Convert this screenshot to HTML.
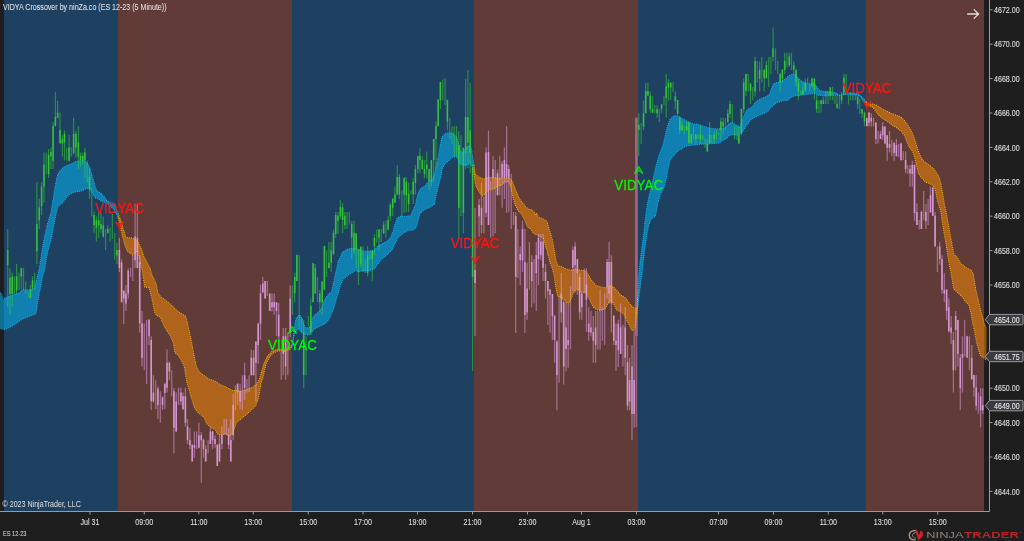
<!DOCTYPE html>
<html lang="en"><head><meta charset="utf-8"><title>VIDYA Crossover by ninZa.co</title>
<style>
html,body{margin:0;padding:0;background:#1e1e1e;overflow:hidden}
body{width:1024px;height:541px;position:relative;font-family:"Liberation Sans",Arial,sans-serif}
svg{position:absolute;left:0;top:0;display:block}
text{font-family:"Liberation Sans",Arial,sans-serif}
</style></head><body>
<svg width="1024" height="541" viewBox="0 0 1024 541">
<rect width="1024" height="541" fill="#1e1e1e"/>
<g shape-rendering="crispEdges">
<rect x="4" y="0" width="114" height="510.5" fill="#1e4061"/>
<rect x="118" y="0" width="174" height="510.5" fill="#603b37"/>
<rect x="292" y="0" width="182" height="510.5" fill="#1e4061"/>
<rect x="474" y="0" width="164" height="510.5" fill="#603b37"/>
<rect x="638" y="0" width="228" height="510.5" fill="#1e4061"/>
<rect x="866" y="0" width="118" height="510.5" fill="#603b37"/>
</g>
<clipPath id="cp"><rect x="0" y="0" width="986.5" height="510.5"/></clipPath>
<g clip-path="url(#cp)">
<path d="M0.0 292.0 L1.9 293.3 L3.8 300.2 L5.0 298.3 L12.6 295.1 L18.9 293.3 L22.6 289.5 L28.9 290.1 L34.6 288.2 L36.5 280.1 L39.0 270.0 L40.9 258.0 L42.7 246.6 L44.6 236.5 L47.8 222.7 L50.9 212.6 L53.1 199.0 L55.0 187.0 L57.2 175.9 L59.1 172.1 L62.8 167.7 L66.6 165.6 L72.9 163.3 L75.4 161.4 L83.0 160.5 L86.7 162.4 L89.9 167.7 L92.4 176.5 L94.9 185.3 L96.8 191.0 L100.6 192.8 L104.3 196.8 L106.8 200.7 L110.6 202.6 L114.4 203.8 L116.3 208.9 L117.9 213.2 L118.0 213.5 L118.0 217.7 L117.3 215.4 L114.4 210.1 L110.6 206.3 L105.6 202.6 L100.6 200.7 L96.8 197.5 L95.5 198.0 L93.6 195.4 L91.8 191.6 L89.2 189.1 L86.7 188.4 L83.6 190.0 L81.7 191.0 L75.4 191.9 L70.4 193.8 L66.6 197.5 L62.8 202.6 L58.1 206.3 L55.9 215.1 L53.4 227.7 L50.9 240.3 L48.4 249.1 L46.5 258.0 L44.6 270.0 L42.1 277.5 L40.2 288.9 L37.7 301.4 L36.5 311.5 L35.2 314.0 L28.9 316.5 L22.6 319.0 L18.9 321.5 L10.1 327.2 L3.8 329.7 L0.0 329.1 Z" fill="#00bfff" fill-opacity="0.5"/>
<path d="M118.0 213.5 L119.5 217.0 L121.4 222.0 L122.7 227.7 L124.2 231.5 L125.7 236.5 L127.5 237.7 L130.9 237.7 L134.6 239.0 L137.1 240.2 L139.0 244.0 L141.5 249.0 L143.4 255.3 L145.9 260.3 L148.5 265.4 L150.0 268.1 L152.2 275.8 L156.0 283.4 L157.9 292.2 L160.4 296.6 L164.8 299.7 L171.1 304.7 L176.1 309.8 L181.1 313.5 L185.5 316.0 L187.4 322.3 L189.1 330.6 L191.2 340.1 L193.1 350.1 L195.0 360.2 L196.8 367.7 L199.4 372.1 L203.8 375.3 L208.8 379.0 L215.1 380.9 L220.1 384.7 L225.1 386.6 L228.0 388.2 L230.2 389.1 L233.0 390.7 L235.2 390.4 L240.6 391.3 L246.9 389.4 L253.1 386.9 L256.9 383.8 L259.4 379.5 L261.9 370.3 L264.5 362.1 L267.6 355.8 L272.0 351.4 L278.3 348.9 L284.6 349.5 L289.6 347.7 L292.0 344.6 L292.0 346.5 L289.6 349.5 L284.6 351.4 L278.3 350.8 L272.6 353.3 L269.2 357.7 L266.3 363.4 L264.5 370.3 L262.6 379.1 L261.3 381.9 L259.7 391.3 L258.2 398.9 L255.7 405.8 L250.6 410.8 L245.6 415.2 L240.3 419.6 L236.9 422.1 L234.4 428.4 L232.2 434.0 L229.5 435.9 L228.0 435.9 L226.4 433.4 L221.4 435.3 L217.6 434.0 L215.1 429.6 L211.3 427.7 L206.9 424.0 L203.8 417.1 L198.7 413.3 L195.0 408.9 L192.4 401.3 L189.9 392.8 L187.4 384.1 L185.5 375.3 L184.3 366.5 L181.8 361.5 L178.6 355.8 L174.8 352.7 L173.3 342.6 L169.8 335.1 L166.4 330.0 L164.8 327.4 L162.3 322.3 L160.4 317.3 L156.6 315.4 L154.7 312.3 L152.9 303.5 L151.0 294.7 L149.1 287.8 L144.7 287.1 L143.4 278.3 L142.2 269.5 L141.2 268.0 L139.7 259.1 L138.4 254.0 L136.5 250.9 L134.6 253.4 L132.7 255.1 L130.2 253.4 L127.3 250.9 L124.8 244.6 L122.9 237.7 L121.0 229.6 L119.2 221.4 L118.0 217.7 Z" fill="#ff8c00" fill-opacity="0.5"/>
<path d="M292.0 344.6 L292.1 344.5 L293.4 336.3 L294.9 324.3 L296.2 318.0 L299.6 314.8 L302.2 318.6 L303.4 323.6 L305.3 327.4 L308.4 328.0 L311.0 324.8 L312.2 318.6 L314.7 314.8 L318.5 312.3 L321.6 308.5 L323.5 302.2 L326.0 297.2 L328.6 294.1 L331.7 291.5 L333.0 284.6 L334.8 277.1 L336.7 268.3 L338.0 261.6 L339.6 258.7 L342.4 252.2 L346.2 249.6 L347.8 249.0 L349.9 248.4 L353.2 248.1 L356.3 249.0 L362.9 250.9 L369.1 251.5 L374.2 250.2 L377.3 246.5 L381.7 244.0 L386.7 241.5 L390.5 237.7 L393.0 231.4 L395.5 222.6 L397.4 217.6 L400.6 216.3 L406.8 216.3 L410.6 215.7 L413.1 210.0 L415.3 205.2 L416.9 197.8 L418.8 191.5 L420.7 188.4 L424.4 186.5 L427.6 182.7 L432.0 180.2 L433.9 175.2 L435.8 168.9 L437.6 160.1 L438.9 152.5 L440.3 144.5 L442.3 136.5 L445.5 133.4 L449.9 132.5 L453.6 134.0 L456.8 137.8 L458.7 144.1 L459.9 150.4 L462.2 153.0 L464.3 150.4 L466.8 147.2 L469.4 145.3 L471.2 147.8 L473.3 160.6 L474.0 165.4 L474.0 174.2 L472.6 167.0 L469.9 163.5 L466.3 165.1 L464.7 165.1 L461.4 164.8 L459.4 162.6 L457.9 158.8 L455.9 156.3 L452.1 157.6 L448.3 161.3 L444.6 163.9 L442.0 170.1 L440.2 178.9 L438.3 186.5 L435.8 196.5 L434.5 205.0 L433.2 204.1 L432.0 206.3 L430.1 207.2 L427.0 208.8 L425.7 209.1 L423.2 210.7 L420.0 213.8 L418.2 220.1 L416.3 227.6 L413.1 230.1 L408.1 230.8 L403.1 233.3 L398.0 237.7 L395.5 242.7 L391.8 250.2 L386.7 255.3 L381.7 259.0 L377.9 264.1 L374.2 269.1 L369.1 270.4 L364.1 271.0 L357.8 271.6 L356.0 270.2 L353.7 271.4 L351.5 273.0 L349.9 273.9 L346.2 276.5 L343.0 279.6 L340.5 284.6 L338.6 292.2 L336.1 299.7 L334.2 307.2 L331.7 313.5 L328.6 320.0 L324.8 323.8 L319.8 326.3 L314.7 328.8 L311.6 332.6 L308.4 335.1 L303.4 333.8 L300.9 331.9 L298.4 328.8 L295.9 331.3 L293.6 337.0 L292.6 345.8 L292.0 346.5 Z" fill="#00bfff" fill-opacity="0.5"/>
<path d="M474.0 165.4 L475.1 173.3 L477.6 176.4 L481.4 178.3 L484.5 178.9 L487.6 177.4 L492.7 177.4 L497.7 177.9 L504.0 178.3 L509.0 177.9 L511.5 180.2 L513.4 184.0 L515.3 189.0 L517.8 195.3 L520.3 200.3 L522.8 202.8 L525.4 206.6 L526.6 207.5 L528.0 208.8 L529.1 209.1 L530.4 209.4 L531.8 210.0 L534.2 212.1 L535.5 215.1 L536.7 213.0 L537.9 216.3 L539.3 217.6 L541.7 218.2 L544.1 219.5 L546.9 221.3 L548.7 227.6 L550.6 233.9 L552.5 240.2 L553.8 247.7 L555.0 255.3 L556.3 261.6 L558.2 265.9 L561.9 266.5 L565.7 268.7 L570.7 270.3 L575.8 269.0 L580.8 270.3 L584.6 270.6 L587.1 273.2 L589.6 277.1 L592.1 280.9 L595.9 285.3 L600.9 287.1 L605.9 287.8 L609.7 285.9 L613.5 287.1 L617.2 290.9 L621.0 295.3 L624.8 297.2 L628.6 302.2 L632.3 306.6 L634.8 307.9 L637.1 308.5 L638.0 290.3 L638.0 304.9 L634.8 330.1 L632.3 331.0 L631.1 328.6 L628.6 323.6 L626.0 318.6 L623.5 313.5 L619.8 311.6 L616.6 309.8 L614.7 306.0 L612.8 302.2 L610.3 300.3 L607.8 304.1 L604.7 309.1 L600.9 310.4 L597.1 309.8 L593.4 307.2 L590.8 302.2 L588.3 296.6 L585.8 292.2 L580.8 292.2 L578.3 289.7 L575.8 289.0 L573.2 293.4 L570.7 299.7 L568.2 304.1 L564.5 299.7 L560.7 297.2 L557.5 295.9 L555.7 287.1 L554.1 275.7 L552.5 269.3 L550.6 264.1 L548.7 257.8 L546.9 250.2 L545.0 244.0 L543.5 238.9 L541.7 237.1 L539.3 236.4 L537.9 235.2 L535.5 234.5 L533.5 233.3 L531.8 230.8 L530.4 228.9 L528.0 227.6 L526.6 225.1 L524.1 218.8 L521.6 213.8 L520.3 213.0 L517.8 210.2 L515.3 205.3 L513.4 199.0 L512.2 193.4 L510.9 187.7 L509.6 183.3 L507.8 181.5 L504.0 182.7 L501.5 185.2 L497.7 185.9 L494.6 188.4 L491.4 189.6 L487.6 190.2 L485.1 194.0 L482.6 195.9 L480.1 193.4 L477.6 189.0 L475.7 185.2 L474.0 174.2 L474.0 174.2 Z" fill="#ff8c00" fill-opacity="0.5"/>
<path d="M638.0 290.3 L638.9 273.0 L640.1 261.6 L642.0 246.5 L643.9 232.7 L645.1 220.1 L646.7 208.1 L648.3 199.0 L651.4 186.5 L653.9 175.2 L656.5 163.9 L659.0 155.1 L661.5 148.8 L663.0 145.2 L665.2 135.3 L667.8 125.2 L670.3 118.9 L674.0 115.8 L677.8 115.8 L681.6 118.3 L685.4 120.2 L689.1 122.1 L692.9 124.0 L697.9 124.0 L703.0 125.9 L708.0 127.7 L713.0 128.4 L718.0 129.0 L723.1 128.4 L726.8 126.5 L729.4 123.3 L732.5 122.7 L735.6 124.6 L738.8 126.5 L740.0 127.8 L741.6 122.1 L743.8 115.9 L746.0 111.5 L748.0 108.9 L751.3 107.7 L755.1 102.7 L760.1 98.9 L765.1 97.1 L769.5 94.5 L771.4 88.9 L773.3 83.9 L776.5 82.6 L781.5 81.3 L785.2 78.8 L789.0 75.7 L792.8 74.0 L795.3 74.4 L797.8 77.6 L801.0 80.7 L804.1 82.6 L809.1 83.2 L814.2 83.9 L816.7 86.4 L819.2 90.1 L823.0 91.4 L828.0 91.6 L833.0 92.0 L836.8 93.3 L839.3 95.2 L843.1 93.9 L846.8 92.7 L851.9 93.3 L856.9 93.3 L859.4 94.5 L861.9 97.1 L864.4 99.6 L866.0 101.8 L866.0 104.3 L865.9 104.2 L863.2 100.8 L860.7 97.1 L858.2 95.2 L854.4 94.5 L849.4 94.5 L844.3 94.5 L840.6 95.8 L836.8 95.2 L833.0 95.2 L828.0 95.8 L823.0 95.8 L817.9 95.2 L814.2 93.3 L810.4 93.9 L805.4 94.5 L800.3 95.2 L795.3 95.8 L791.5 97.1 L787.8 100.2 L782.7 100.8 L776.5 102.7 L771.4 107.1 L767.7 111.5 L763.9 113.4 L758.9 115.3 L753.8 117.8 L750.1 120.3 L748.0 124.0 L746.3 125.3 L744.4 129.0 L741.9 132.8 L738.2 135.3 L733.1 134.6 L729.4 135.3 L726.8 138.4 L723.1 140.3 L719.3 142.8 L714.3 143.4 L708.0 144.1 L701.7 144.1 L695.4 144.9 L689.1 145.5 L685.4 146.6 L684.1 146.9 L681.6 149.1 L679.1 150.0 L674.0 155.1 L670.3 160.1 L667.8 170.1 L665.9 180.2 L664.0 187.7 L660.2 194.0 L657.7 203.9 L656.5 211.3 L655.2 216.3 L651.4 218.8 L648.9 225.1 L647.0 233.9 L645.1 246.5 L643.3 261.6 L642.0 273.0 L638.0 304.9 Z" fill="#00bfff" fill-opacity="0.5"/>
<path d="M866.0 101.8 L866.2 102.0 L869.8 103.9 L873.6 104.1 L877.4 105.7 L881.1 108.3 L886.2 110.8 L891.2 113.3 L896.2 115.2 L900.0 116.4 L903.8 119.6 L907.5 124.6 L911.3 130.9 L913.8 136.5 L915.7 142.8 L917.9 149.6 L918.8 153.0 L920.1 155.1 L922.6 160.1 L926.4 163.2 L930.2 165.7 L933.9 168.9 L936.4 172.7 L939.0 177.1 L940.8 182.7 L942.1 190.2 L943.4 197.8 L944.6 205.3 L946.1 211.5 L947.8 221.3 L949.6 231.4 L951.5 241.5 L952.8 249.0 L954.0 254.6 L956.6 256.5 L959.1 260.3 L961.0 264.1 L962.6 264.5 L964.1 266.0 L966.4 267.7 L967.9 268.5 L971.5 270.3 L973.4 274.4 L974.6 282.1 L975.8 289.7 L977.7 297.2 L979.6 306.0 L981.5 313.5 L983.4 319.8 L984.6 324.8 L986.2 326.3 L987.3 327.5 L986.5 361.5 L984.6 358.3 L982.1 357.1 L980.2 355.2 L978.3 348.9 L976.4 341.4 L974.6 331.3 L973.3 326.2 L972.0 319.8 L970.8 312.3 L968.9 305.4 L965.1 301.0 L961.4 295.9 L957.6 292.8 L953.5 288.7 L951.9 278.3 L950.8 271.3 L949.6 266.6 L948.4 259.0 L947.1 251.5 L945.9 242.7 L944.0 232.7 L942.1 221.3 L941.2 212.8 L939.6 207.8 L937.7 201.6 L936.4 195.3 L935.2 189.0 L932.7 185.2 L928.9 183.3 L925.1 182.1 L922.6 178.9 L920.1 176.4 L918.2 172.7 L916.3 165.1 L915.1 158.8 L913.2 152.8 L911.3 149.6 L908.8 146.6 L906.3 140.3 L904.4 135.3 L901.2 131.5 L897.5 128.4 L892.5 125.2 L887.4 121.5 L882.4 118.3 L878.6 115.2 L874.9 110.1 L872.3 107.0 L868.6 105.7 L866.0 104.3 Z" fill="#ff8c00" fill-opacity="0.5"/>
<path d="M7.7 229.0V306.5M9.9 268.3V315.2M12.2 272.7V306.5M14.4 276.5V294.0M16.6 263.9V294.0M19.0 272.7V290.3M21.3 267.7V289.0M23.5 267.7V289.0M25.8 281.5V294.0M28.2 292.6V297.8M30.4 285.1V298.4M32.5 276.3V290.3M34.7 272.5V289.0M36.9 182.2V263.9M39.3 198.8V229.0M41.6 182.2V215.1M44.0 152.4V202.6M46.3 152.4V174.0M48.6 148.9V177.8M50.9 147.6V169.0M53.1 122.1V169.0M55.4 91.9V126.5M57.6 100.7V118.3M60.0 112.4V143.8M62.4 135.3V156.4M64.5 130.5V160.2M66.7 147.6V160.8M69.1 135.0V161.4M71.3 147.2V156.4M73.6 117.7V155.1M75.9 130.9V157.7M78.4 126.2V169.0M80.5 152.6V166.5M82.7 152.6V165.2M84.9 147.8V177.8M87.2 160.8V182.8M89.5 167.7V198.8M91.8 187.2V216.4M94.1 211.4V232.7M96.4 216.4V241.5M98.7 212.6V237.8M101.0 212.6V232.7M103.3 216.4V237.8M105.6 229.0V250.3M107.8 225.2V234.0M110.2 227.7V241.5M112.4 213.9V239.0M114.7 232.7V259.5M116.9 242.8V263.9M292.5 285.3V314.8M294.7 272.7V302.2M296.9 254.7V280.9M299.2 254.7V327.5M301.5 318.6V332.6M303.7 320.0V388.2M306.0 336.3V375.3M308.4 316.0V326.3M310.8 298.5V335.1M313.1 262.8V302.2M315.3 264.1V293.4M317.5 277.1V302.2M319.8 289.7V312.3M322.2 281.5V314.8M324.4 245.9V289.7M326.6 250.3V277.1M328.9 242.1V268.3M331.2 242.1V272.1M333.5 229.5V255.3M335.7 211.9V237.7M338.0 211.9V233.9M340.4 200.0V218.9M342.6 203.1V233.3M344.8 211.9V228.9M347.0 211.9V228.9M349.3 211.9V224.5M351.7 220.7V259.1M354.0 220.7V254.0M356.2 233.3V267.8M358.5 249.0V285.2M360.7 245.9V267.0M363.0 246.3V271.4M365.3 259.0V272.7M367.6 246.3V276.5M369.9 250.2V260.1M372.3 250.1V280.9M374.4 233.9V255.3M376.7 229.5V242.7M379.0 228.9V250.2M381.3 228.9V242.1M383.6 221.3V233.9M385.9 220.7V237.7M388.1 216.3V230.1M390.3 202.8V220.7M392.7 198.4V216.3M394.9 186.5V202.8M397.2 165.1V195.3M399.4 173.9V199.0M401.8 190.2V216.3M404.1 177.7V213.0M406.3 177.1V211.9M408.6 182.7V211.9M410.9 190.2V194.6M413.2 178.3V204.1M415.4 165.1V194.6M417.8 155.7V173.3M419.9 147.8V173.3M422.3 156.3V169.5M424.5 160.1V178.3M426.8 151.6V178.3M429.1 168.9V190.2M431.4 160.1V186.5M433.7 139.0V181.5M436.0 121.5V168.9M438.2 99.6V126.5M440.4 82.1V109.1M442.8 79.5V100.3M445.1 78.3V105.1M447.4 99.6V130.2M449.7 117.7V139.0M452.0 126.5V144.1M454.2 125.9V156.3M456.5 125.9V156.3M458.8 130.9V238.3M461.0 135.3V216.3M463.4 147.8V233.3M465.6 78.9V168.9M467.9 70.1V168.0M470.2 82.7V173.3M472.6 164.0V371.0M638.8 113.3V156.3M641.1 122.7V144.1M643.5 100.7V130.2M645.7 82.8V113.3M647.9 82.8V95.7M650.2 91.6V112.7M652.5 96.0V113.3M654.8 105.1V113.3M657.1 105.1V117.7M659.3 108.9V122.1M661.6 103.9V113.3M664.0 96.3V105.1M666.2 74.0V117.7M668.4 79.0V100.7M670.7 82.2V100.1M673.0 82.2V91.9M675.3 91.6V108.9M677.6 100.1V114.5M679.8 116.4V134.6M682.1 121.5V130.9M684.4 126.5V134.6M686.7 122.1V130.9M688.9 122.1V144.1M691.3 134.0V144.1M693.5 126.5V139.0M695.8 134.0V144.1M698.1 134.0V139.0M700.4 125.9V144.1M702.7 134.6V140.3M705.0 138.4V147.8M707.3 139.0V151.6M709.6 122.1V144.1M711.8 135.3V142.8M714.2 130.9V144.1M716.4 130.2V139.0M718.6 132.8V135.3M720.9 117.7V140.3M723.2 117.7V134.6M725.5 118.3V130.2M727.8 108.9V122.7M730.0 100.7V117.7M732.3 103.9V122.7M734.6 125.9V139.0M736.9 126.5V140.3M738.9 126.5V144.1M741.4 108.3V135.3M743.7 78.8V113.3M746.0 73.8V96.3M748.2 73.8V91.4M750.5 82.6V104.0M752.7 87.0V100.2M755.1 57.1V96.4M757.3 60.9V82.6M759.6 61.5V91.4M761.8 57.1V82.6M764.2 69.0V91.4M766.4 60.9V78.2M768.7 57.1V87.0M770.9 57.1V74.1M773.1 27.6V61.5M775.6 48.3V70.3M777.8 60.9V74.1M780.1 73.8V91.4M782.4 69.0V82.6M784.7 52.7V74.1M786.9 52.7V67.5M789.3 52.7V66.5M791.5 52.7V70.3M793.8 61.5V74.1M796.1 69.0V86.4M798.4 78.8V100.2M800.7 90.8V95.2M802.9 82.6V95.2M805.3 78.5V91.4M807.6 77.8V82.6M809.8 83.9V91.4M812.0 77.8V87.0M814.4 77.8V99.6M816.6 95.2V112.8M818.9 100.2V113.4M821.1 99.6V112.8M823.4 96.4V104.0M825.7 90.8V104.0M828.0 92.0V104.0M830.3 87.0V100.2M832.6 87.0V100.2M834.9 95.8V104.0M837.1 95.8V109.0M839.5 95.8V109.0M841.6 92.0V104.0M843.9 74.1V95.2M846.2 74.1V91.4M848.5 95.2V104.6M850.7 92.0V100.2M853.0 92.0V100.2M855.4 93.9V100.2M857.6 95.7V109.0M859.8 98.8V113.9M862.1 108.9V117.8M864.5 111.4V126.6" stroke="#37d237" stroke-width="1.25" stroke-opacity="0.5" fill="none"/>
<path d="M7.7 250.1V265.1M9.9 277.7V294.0M12.2 276.5V294.0M16.6 276.3V290.3M21.3 268.3V276.5M30.4 289.5V297.8M32.5 280.2V287.8M36.9 223.9V251.3M39.3 207.6V220.2M41.6 186.6V206.3M44.0 164.6V186.6M48.6 155.1V174.0M50.9 152.0V156.4M53.1 125.9V160.8M55.4 117.1V125.9M57.6 112.7V117.7M60.0 130.0V143.2M62.4 138.8V143.4M64.5 133.8V142.6M69.1 147.6V160.8M73.6 133.8V153.0M75.9 133.8V147.6M78.4 142.6V156.4M80.5 155.8V160.2M82.7 155.8V160.8M84.9 152.6V160.2M89.5 176.5V189.1M94.1 215.1V225.2M96.4 220.2V227.7M98.7 220.2V225.2M101.0 223.9V229.0M103.3 225.2V236.5M107.8 229.0V232.7M116.9 250.1V255.4M294.7 277.1V293.4M296.9 254.7V280.9M303.7 332.6V375.3M310.8 306.0V332.6M313.1 263.3V302.2M315.3 268.3V293.4M319.8 293.4V302.2M322.2 281.5V302.2M324.4 245.9V289.7M328.9 262.8V268.0M331.2 250.3V262.8M333.5 232.7V254.0M335.7 215.1V233.9M338.0 215.7V220.7M340.4 206.9V216.3M342.6 207.5V220.1M344.8 215.7V225.1M351.7 223.9V237.7M354.0 232.7V250.3M356.2 233.3V249.0M360.7 246.9V264.1M367.6 255.1V273.0M372.3 251.3V258.9M374.4 237.7V246.5M379.0 229.5V237.7M383.6 224.5V233.3M388.1 220.1V229.5M390.3 205.0V216.3M392.7 198.4V207.8M394.9 194.6V202.8M397.2 177.1V194.6M399.4 177.1V194.6M404.1 177.7V194.6M406.3 181.5V195.3M408.6 194.0V204.1M413.2 182.1V194.6M415.4 168.9V182.7M417.8 156.3V168.9M419.9 155.7V160.1M422.3 160.1V168.9M424.5 168.9V173.9M426.8 164.5V168.9M429.1 168.9V181.5M431.4 160.1V181.5M433.7 139.0V160.1M436.0 125.9V139.0M438.2 99.6V125.9M440.4 82.1V100.3M447.4 100.1V121.5M458.8 145.0V207.8M463.4 147.8V213.0M465.6 117.1V153.0M467.9 117.1V142.8M470.2 130.2V153.0M472.6 168.0V277.0M638.8 125.0V130.0M643.5 113.3V126.5M645.7 91.0V113.3M647.9 91.3V95.7M650.2 95.7V108.9M652.5 108.9V112.7M657.1 108.9V113.3M661.6 104.5V108.9M666.2 86.6V98.0M668.4 82.8V87.8M670.7 82.8V87.5M675.3 96.3V101.3M677.6 100.1V113.9M679.8 117.7V130.2M682.1 125.2V130.2M686.7 125.9V130.2M688.9 122.7V142.8M691.3 134.0V142.8M695.8 134.6V139.0M700.4 134.6V139.0M707.3 144.1V151.6M709.6 134.6V142.8M714.2 134.6V139.0M720.9 121.5V130.2M723.2 122.1V126.5M727.8 113.3V122.1M730.0 103.9V113.9M738.9 135.3V143.4M741.4 108.9V133.0M743.7 82.6V109.0M746.0 74.0V90.8M750.5 83.9V90.8M755.1 60.9V91.4M759.6 69.7V78.8M764.2 70.0V78.2M766.4 65.0V78.2M773.1 48.3V57.1M780.1 73.8V82.6M782.4 69.7V78.8M784.7 60.9V70.0M789.3 56.5V65.3M793.8 65.3V69.7M796.1 70.0V82.6M798.4 82.6V91.4M802.9 90.8V93.9M805.3 83.2V90.8M812.0 78.8V86.4M814.4 78.8V90.1M816.6 100.2V109.0M821.1 100.2V104.0M823.4 100.2V104.0M830.3 87.6V95.2M837.1 104.0V107.7M841.6 95.8V100.2M843.9 77.8V92.7M857.6 96.4V104.0M862.1 109.0V113.4M864.5 112.7V121.6" stroke="#37d237" stroke-width="1.6" stroke-opacity="0.8" fill="none"/>
<path d="M119.4 237.7V272.1M121.6 259.5V302.2M123.8 289.7V324.0M125.9 285.1V311.0M128.2 268.3V298.5M130.6 267.7V277.1M132.8 255.3V280.9M135.1 203.8V268.0M137.4 203.8V268.3M139.7 255.3V332.5M142.0 311.0V366.5M144.3 323.6V370.2M146.6 319.8V384.1M149.0 319.2V345.1M151.2 336.3V410.1M153.4 375.3V402.6M155.7 380.3V408.9M157.9 386.6V418.9M160.3 391.3V422.7M162.5 396.3V410.1M164.8 382.8V408.9M167.0 349.5V392.5M169.4 361.5V380.3M171.7 370.2V396.3M173.9 387.8V453.3M176.2 392.5V431.9M178.5 387.8V405.1M180.9 387.8V405.1M183.0 392.5V410.1M185.4 387.8V426.5M187.5 418.9V444.1M189.9 427.7V448.9M192.2 444.1V461.5M194.4 431.5V457.7M196.6 431.5V448.9M198.9 422.7V448.3M201.3 431.9V482.8M203.5 438.8V457.7M205.7 445.3V461.5M208.1 440.3V453.3M210.4 427.7V444.1M212.6 430.9V448.9M215.0 435.3V447.8M217.3 443.9V465.9M219.5 435.3V461.5M221.9 426.5V448.9M224.1 418.9V435.3M226.4 418.9V435.3M228.6 427.7V448.9M230.8 418.9V461.5M233.2 393.8V440.3M235.4 385.3V410.2M237.6 383.4V405.1M240.1 383.8V408.9M242.4 375.3V410.2M244.6 362.7V400.0M246.9 379.1V392.6M249.1 375.3V392.0M251.3 349.5V375.3M253.6 350.2V375.3M255.9 341.4V401.4M258.2 322.5V364.0M260.5 284.6V340.1M262.8 277.1V293.4M265.1 280.9V298.5M267.4 280.9V295.9M269.7 293.4V311.0M272.0 293.4V311.6M274.2 293.4V314.8M276.5 302.2V336.3M278.7 302.9V342.6M281.2 351.4V379.7M283.3 328.0V375.3M285.6 328.0V379.7M287.8 332.6V375.3M290.2 285.3V337.0M475.0 208.0V336.0M479.1 199.0V236.4M481.5 182.7V233.3M483.9 196.5V233.3M486.1 147.5V216.9M488.5 130.7V225.1M490.7 181.5V237.7M493.0 156.3V236.4M495.2 160.1V233.3M497.5 169.5V195.3M499.8 156.3V195.3M502.1 161.3V207.8M504.4 147.5V199.0M506.6 126.3V213.0M508.8 165.1V211.9M511.2 173.9V228.9M513.5 211.9V225.1M515.7 212.0V333.0M517.9 228.9V278.3M520.2 246.5V285.3M522.5 220.7V272.1M524.9 229.0V333.0M527.1 262.8V319.8M529.4 242.1V289.7M531.7 255.3V307.2M534.0 259.0V303.5M536.3 242.1V311.0M538.5 233.9V285.3M540.8 233.9V260.3M543.1 233.9V280.9M545.5 264.1V298.5M547.8 280.9V325.0M550.0 289.0V332.6M552.4 294.1V340.1M554.6 314.8V362.7M556.9 340.1V410.2M559.1 295.9V382.8M561.3 272.7V322.5M563.7 299.7V384.4M566.0 302.0V371.5M568.2 304.7V367.8M570.5 285.9V349.5M572.9 246.5V290.9M575.1 242.1V292.2M577.4 259.0V294.7M579.6 273.3V319.8M581.8 291.5V319.8M584.3 268.5V293.4M586.4 268.5V331.9M588.7 307.2V340.7M590.9 311.0V336.3M593.3 316.0V362.7M595.6 311.0V362.7M597.8 311.0V349.5M600.1 289.7V349.5M602.4 307.2V340.7M604.7 293.4V345.1M607.1 259.0V298.5M609.1 242.1V303.5M611.4 255.3V332.6M613.8 314.8V345.1M616.0 323.6V370.9M618.3 319.8V367.1M620.6 303.5V353.9M622.9 324.8V366.5M625.2 307.2V375.3M627.5 345.1V410.2M629.6 357.7V410.2M632.0 345.1V440.3M634.2 331.3V427.8M866.8 117.7V126.6M869.0 112.0V126.5M871.3 113.3V126.5M873.6 117.7V126.5M875.9 122.1V144.1M878.2 130.9V143.4M880.5 130.9V139.0M882.7 122.1V139.7M884.9 126.5V144.1M887.2 135.3V160.7M889.5 130.9V152.5M891.8 139.7V156.3M894.1 142.8V160.7M896.4 139.0V156.3M898.7 144.1V156.9M901.0 142.8V160.7M903.3 151.3V160.1M905.6 151.6V173.3M907.8 165.1V173.9M910.0 165.1V186.5M912.3 160.7V186.5M914.5 164.5V220.7M916.9 203.4V225.1M919.2 220.1V229.5M921.4 210.4V228.9M923.7 190.9V220.1M925.9 204.1V228.9M928.1 199.0V225.1M930.5 186.5V212.5M932.8 187.1V216.3M935.1 211.9V246.5M937.4 246.5V272.1M939.7 242.1V264.5M942.0 255.3V293.4M944.3 273.3V302.2M946.6 289.0V319.8M948.8 298.5V332.6M951.1 316.0V343.9M953.4 331.9V392.6M955.7 311.0V370.3M957.9 319.8V366.5M960.3 353.9V410.2M962.5 336.3V392.6M964.7 319.8V356.5M967.1 335.7V357.7M969.4 336.3V370.3M971.7 345.1V380.0M973.9 374.7V396.4M976.2 375.3V410.2M978.4 392.6V414.0M980.6 388.2V427.2M982.8 388.2V414.0" stroke="#e3a3e6" stroke-width="1.25" stroke-opacity="0.5" fill="none"/>
<path d="M119.4 250.1V268.0M121.6 262.6V302.2M123.8 290.9V298.5M125.9 293.4V303.5M128.2 270.8V293.4M135.1 236.5V260.3M137.4 237.7V268.0M139.7 262.0V323.6M142.0 323.6V357.7M149.0 319.8V336.3M151.2 340.1V401.3M153.4 392.5V401.3M157.9 388.8V405.1M162.5 397.6V405.1M164.8 384.1V393.0M167.0 362.7V387.8M169.4 362.7V371.5M173.9 391.3V427.7M176.2 401.3V431.5M180.9 392.5V401.3M183.0 396.3V408.9M185.4 396.3V422.7M187.5 426.5V440.3M189.9 440.1V445.3M192.2 445.1V461.5M194.4 445.3V447.8M198.9 435.3V447.8M201.3 435.1V440.3M203.5 440.1V448.9M205.7 448.9V461.5M210.4 431.5V444.1M212.6 431.5V440.3M215.0 439.0V444.1M217.3 445.1V465.9M219.5 443.9V461.5M221.9 435.3V444.1M228.6 435.1V445.1M230.8 440.1V461.5M233.2 405.1V435.3M237.6 383.8V392.6M240.1 391.3V401.4M244.6 375.3V388.0M251.3 357.7V375.3M253.6 357.7V375.3M255.9 341.4V362.7M258.2 323.8V345.1M260.5 293.4V323.8M262.8 283.4V292.2M265.1 280.9V298.5M269.7 293.4V311.0M272.0 302.2V307.2M274.2 302.2V307.2M276.5 302.2V311.0M278.7 314.8V336.3M283.3 336.3V353.9M285.6 336.3V366.5M290.2 298.5V332.6M475.0 270.0V283.0M479.1 205.0V216.3M481.5 207.8V225.1M486.1 152.5V213.0M488.5 151.9V225.1M493.0 168.9V177.7M497.5 173.3V195.3M502.1 163.9V177.7M504.4 160.1V177.7M506.6 163.9V177.7M508.8 168.9V177.7M515.7 216.0V277.0M520.2 254.0V260.3M522.5 228.9V260.3M524.9 262.0V315.0M527.1 288.4V312.3M531.7 262.0V280.9M536.3 255.3V273.0M538.5 237.7V259.0M540.8 241.5V255.3M543.1 241.5V267.8M545.5 272.1V280.9M547.8 280.9V290.9M550.0 289.7V294.7M552.4 294.1V316.0M554.6 316.0V340.1M556.9 341.4V375.3M561.3 293.4V312.3M563.7 302.2V366.5M566.0 327.5V348.9M568.2 340.1V345.1M572.9 250.2V267.8M575.1 246.5V265.3M577.4 259.0V273.0M579.6 277.1V312.3M581.8 293.4V307.2M586.4 284.6V299.7M588.7 323.6V331.9M590.9 327.5V332.6M593.3 331.9V340.7M595.6 327.5V345.1M607.1 262.0V287.1M609.1 262.0V293.4M611.4 262.0V303.5M613.8 316.0V340.7M616.0 340.7V345.1M618.3 323.8V350.2M620.6 327.5V353.9M625.2 327.5V357.7M627.5 362.1V405.8M629.6 380.0V401.4M632.0 366.5V413.9M634.2 380.0V413.9M866.8 118.3V125.9M869.0 112.7V122.7M871.3 117.7V121.5M875.9 122.7V139.0M880.5 134.0V139.0M882.7 126.5V135.3M884.9 126.5V143.4M887.2 135.3V147.8M889.5 144.1V147.8M894.1 142.8V153.0M896.4 145.0V156.3M901.0 143.4V160.1M905.6 160.1V168.9M910.0 168.9V173.3M912.3 165.1V173.9M914.5 165.1V213.0M916.9 211.9V225.1M921.4 211.9V228.9M925.9 211.9V221.3M930.5 195.3V212.5M932.8 187.7V215.7M935.1 215.7V246.5M939.7 246.5V259.0M942.0 259.0V289.7M944.3 289.7V293.4M946.6 289.7V311.0M948.8 307.2V331.3M951.1 327.5V332.6M953.4 340.1V370.3M955.7 316.0V330.0M957.9 320.0V353.9M960.3 357.7V388.2M962.5 353.9V357.7M967.1 336.3V357.7M971.7 357.7V379.1M973.9 375.0V387.6M976.2 387.6V405.8M980.6 396.4V410.2M982.8 405.2V410.2" stroke="#e3a3e6" stroke-width="1.6" stroke-opacity="0.8" fill="none"/>
<path d="M636.4 117.7V336.0" stroke="#e3a3e6" stroke-width="2.6" stroke-opacity="0.45" fill="none"/>
<path d="M636.3 336.0V427.0" stroke="#e3a3e6" stroke-width="1.2" stroke-opacity="0.45" fill="none"/>
</g>
<clipPath id="cp2"><rect x="4" y="0" width="982" height="510.5"/></clipPath>
<g clip-path="url(#cp2)">
<path d="M0.0 292.0 L1.9 293.3 L3.8 300.2 L5.0 298.3 L12.6 295.1 L18.9 293.3 L22.6 289.5 L28.9 290.1 L34.6 288.2 L36.5 280.1 L39.0 270.0 L40.9 258.0 L42.7 246.6 L44.6 236.5 L47.8 222.7 L50.9 212.6 L53.1 199.0 L55.0 187.0 L57.2 175.9 L59.1 172.1 L62.8 167.7 L66.6 165.6 L72.9 163.3 L75.4 161.4 L83.0 160.5 L86.7 162.4 L89.9 167.7 L92.4 176.5 L94.9 185.3 L96.8 191.0 L100.6 192.8 L104.3 196.8 L106.8 200.7 L110.6 202.6 L114.4 203.8 L116.3 208.9 L117.9 213.2 L118.0 213.5" fill="none" stroke="#14c2ff" stroke-width="1.05" stroke-dasharray="0.9 1.25" stroke-opacity="0.9"/>
<path d="M0.0 329.1 L3.8 329.7 L10.1 327.2 L18.9 321.5 L22.6 319.0 L28.9 316.5 L35.2 314.0 L36.5 311.5 L37.7 301.4 L40.2 288.9 L42.1 277.5 L44.6 270.0 L46.5 258.0 L48.4 249.1 L50.9 240.3 L53.4 227.7 L55.9 215.1 L58.1 206.3 L62.8 202.6 L66.6 197.5 L70.4 193.8 L75.4 191.9 L81.7 191.0 L83.6 190.0 L86.7 188.4 L89.2 189.1 L91.8 191.6 L93.6 195.4 L95.5 198.0 L96.8 197.5 L100.6 200.7 L105.6 202.6 L110.6 206.3 L114.4 210.1 L117.3 215.4 L118.0 217.7" fill="none" stroke="#14c2ff" stroke-width="1.05" stroke-dasharray="0.9 1.25" stroke-opacity="0.9"/>
<path d="M118.0 213.5 L119.5 217.0 L121.4 222.0 L122.7 227.7 L124.2 231.5 L125.7 236.5 L127.5 237.7 L130.9 237.7 L134.6 239.0 L137.1 240.2 L139.0 244.0 L141.5 249.0 L143.4 255.3 L145.9 260.3 L148.5 265.4 L150.0 268.1 L152.2 275.8 L156.0 283.4 L157.9 292.2 L160.4 296.6 L164.8 299.7 L171.1 304.7 L176.1 309.8 L181.1 313.5 L185.5 316.0 L187.4 322.3 L189.1 330.6 L191.2 340.1 L193.1 350.1 L195.0 360.2 L196.8 367.7 L199.4 372.1 L203.8 375.3 L208.8 379.0 L215.1 380.9 L220.1 384.7 L225.1 386.6 L228.0 388.2 L230.2 389.1 L233.0 390.7 L235.2 390.4 L240.6 391.3 L246.9 389.4 L253.1 386.9 L256.9 383.8 L259.4 379.5 L261.9 370.3 L264.5 362.1 L267.6 355.8 L272.0 351.4 L278.3 348.9 L284.6 349.5 L289.6 347.7 L292.0 344.6" fill="none" stroke="#f7c414" stroke-width="1.05" stroke-dasharray="0.9 1.25" stroke-opacity="0.9"/>
<path d="M118.0 217.7 L119.2 221.4 L121.0 229.6 L122.9 237.7 L124.8 244.6 L127.3 250.9 L130.2 253.4 L132.7 255.1 L134.6 253.4 L136.5 250.9 L138.4 254.0 L139.7 259.1 L141.2 268.0 L142.2 269.5 L143.4 278.3 L144.7 287.1 L149.1 287.8 L151.0 294.7 L152.9 303.5 L154.7 312.3 L156.6 315.4 L160.4 317.3 L162.3 322.3 L164.8 327.4 L166.4 330.0 L169.8 335.1 L173.3 342.6 L174.8 352.7 L178.6 355.8 L181.8 361.5 L184.3 366.5 L185.5 375.3 L187.4 384.1 L189.9 392.8 L192.4 401.3 L195.0 408.9 L198.7 413.3 L203.8 417.1 L206.9 424.0 L211.3 427.7 L215.1 429.6 L217.6 434.0 L221.4 435.3 L226.4 433.4 L228.0 435.9 L229.5 435.9 L232.2 434.0 L234.4 428.4 L236.9 422.1 L240.3 419.6 L245.6 415.2 L250.6 410.8 L255.7 405.8 L258.2 398.9 L259.7 391.3 L261.3 381.9 L262.6 379.1 L264.5 370.3 L266.3 363.4 L269.2 357.7 L272.6 353.3 L278.3 350.8 L284.6 351.4 L289.6 349.5 L292.0 346.5" fill="none" stroke="#f7c414" stroke-width="1.05" stroke-dasharray="0.9 1.25" stroke-opacity="0.9"/>
<path d="M292.0 344.6 L292.1 344.5 L293.4 336.3 L294.9 324.3 L296.2 318.0 L299.6 314.8 L302.2 318.6 L303.4 323.6 L305.3 327.4 L308.4 328.0 L311.0 324.8 L312.2 318.6 L314.7 314.8 L318.5 312.3 L321.6 308.5 L323.5 302.2 L326.0 297.2 L328.6 294.1 L331.7 291.5 L333.0 284.6 L334.8 277.1 L336.7 268.3 L338.0 261.6 L339.6 258.7 L342.4 252.2 L346.2 249.6 L347.8 249.0 L349.9 248.4 L353.2 248.1 L356.3 249.0 L362.9 250.9 L369.1 251.5 L374.2 250.2 L377.3 246.5 L381.7 244.0 L386.7 241.5 L390.5 237.7 L393.0 231.4 L395.5 222.6 L397.4 217.6 L400.6 216.3 L406.8 216.3 L410.6 215.7 L413.1 210.0 L415.3 205.2 L416.9 197.8 L418.8 191.5 L420.7 188.4 L424.4 186.5 L427.6 182.7 L432.0 180.2 L433.9 175.2 L435.8 168.9 L437.6 160.1 L438.9 152.5 L440.3 144.5 L442.3 136.5 L445.5 133.4 L449.9 132.5 L453.6 134.0 L456.8 137.8 L458.7 144.1 L459.9 150.4 L462.2 153.0 L464.3 150.4 L466.8 147.2 L469.4 145.3 L471.2 147.8 L473.3 160.6 L474.0 165.4" fill="none" stroke="#14c2ff" stroke-width="1.05" stroke-dasharray="0.9 1.25" stroke-opacity="0.9"/>
<path d="M292.0 346.5 L292.6 345.8 L293.6 337.0 L295.9 331.3 L298.4 328.8 L300.9 331.9 L303.4 333.8 L308.4 335.1 L311.6 332.6 L314.7 328.8 L319.8 326.3 L324.8 323.8 L328.6 320.0 L331.7 313.5 L334.2 307.2 L336.1 299.7 L338.6 292.2 L340.5 284.6 L343.0 279.6 L346.2 276.5 L349.9 273.9 L351.5 273.0 L353.7 271.4 L356.0 270.2 L357.8 271.6 L364.1 271.0 L369.1 270.4 L374.2 269.1 L377.9 264.1 L381.7 259.0 L386.7 255.3 L391.8 250.2 L395.5 242.7 L398.0 237.7 L403.1 233.3 L408.1 230.8 L413.1 230.1 L416.3 227.6 L418.2 220.1 L420.0 213.8 L423.2 210.7 L425.7 209.1 L427.0 208.8 L430.1 207.2 L432.0 206.3 L433.2 204.1 L434.5 205.0 L435.8 196.5 L438.3 186.5 L440.2 178.9 L442.0 170.1 L444.6 163.9 L448.3 161.3 L452.1 157.6 L455.9 156.3 L457.9 158.8 L459.4 162.6 L461.4 164.8 L464.7 165.1 L466.3 165.1 L469.9 163.5 L472.6 167.0 L474.0 174.2" fill="none" stroke="#14c2ff" stroke-width="1.05" stroke-dasharray="0.9 1.25" stroke-opacity="0.9"/>
<path d="M474.0 165.4 L475.1 173.3 L477.6 176.4 L481.4 178.3 L484.5 178.9 L487.6 177.4 L492.7 177.4 L497.7 177.9 L504.0 178.3 L509.0 177.9 L511.5 180.2 L513.4 184.0 L515.3 189.0 L517.8 195.3 L520.3 200.3 L522.8 202.8 L525.4 206.6 L526.6 207.5 L528.0 208.8 L529.1 209.1 L530.4 209.4 L531.8 210.0 L534.2 212.1 L535.5 215.1 L536.7 213.0 L537.9 216.3 L539.3 217.6 L541.7 218.2 L544.1 219.5 L546.9 221.3 L548.7 227.6 L550.6 233.9 L552.5 240.2 L553.8 247.7 L555.0 255.3 L556.3 261.6 L558.2 265.9 L561.9 266.5 L565.7 268.7 L570.7 270.3 L575.8 269.0 L580.8 270.3 L584.6 270.6 L587.1 273.2 L589.6 277.1 L592.1 280.9 L595.9 285.3 L600.9 287.1 L605.9 287.8 L609.7 285.9 L613.5 287.1 L617.2 290.9 L621.0 295.3 L624.8 297.2 L628.6 302.2 L632.3 306.6 L634.8 307.9 L637.1 308.5 L638.0 290.3" fill="none" stroke="#f7c414" stroke-width="1.05" stroke-dasharray="0.9 1.25" stroke-opacity="0.9"/>
<path d="M474.0 174.2 L474.0 174.2 L475.7 185.2 L477.6 189.0 L480.1 193.4 L482.6 195.9 L485.1 194.0 L487.6 190.2 L491.4 189.6 L494.6 188.4 L497.7 185.9 L501.5 185.2 L504.0 182.7 L507.8 181.5 L509.6 183.3 L510.9 187.7 L512.2 193.4 L513.4 199.0 L515.3 205.3 L517.8 210.2 L520.3 213.0 L521.6 213.8 L524.1 218.8 L526.6 225.1 L528.0 227.6 L530.4 228.9 L531.8 230.8 L533.5 233.3 L535.5 234.5 L537.9 235.2 L539.3 236.4 L541.7 237.1 L543.5 238.9 L545.0 244.0 L546.9 250.2 L548.7 257.8 L550.6 264.1 L552.5 269.3 L554.1 275.7 L555.7 287.1 L557.5 295.9 L560.7 297.2 L564.5 299.7 L568.2 304.1 L570.7 299.7 L573.2 293.4 L575.8 289.0 L578.3 289.7 L580.8 292.2 L585.8 292.2 L588.3 296.6 L590.8 302.2 L593.4 307.2 L597.1 309.8 L600.9 310.4 L604.7 309.1 L607.8 304.1 L610.3 300.3 L612.8 302.2 L614.7 306.0 L616.6 309.8 L619.8 311.6 L623.5 313.5 L626.0 318.6 L628.6 323.6 L631.1 328.6 L632.3 331.0 L634.8 330.1 L638.0 304.9" fill="none" stroke="#f7c414" stroke-width="1.05" stroke-dasharray="0.9 1.25" stroke-opacity="0.9"/>
<path d="M638.0 290.3 L638.9 273.0 L640.1 261.6 L642.0 246.5 L643.9 232.7 L645.1 220.1 L646.7 208.1 L648.3 199.0 L651.4 186.5 L653.9 175.2 L656.5 163.9 L659.0 155.1 L661.5 148.8 L663.0 145.2 L665.2 135.3 L667.8 125.2 L670.3 118.9 L674.0 115.8 L677.8 115.8 L681.6 118.3 L685.4 120.2 L689.1 122.1 L692.9 124.0 L697.9 124.0 L703.0 125.9 L708.0 127.7 L713.0 128.4 L718.0 129.0 L723.1 128.4 L726.8 126.5 L729.4 123.3 L732.5 122.7 L735.6 124.6 L738.8 126.5 L740.0 127.8 L741.6 122.1 L743.8 115.9 L746.0 111.5 L748.0 108.9 L751.3 107.7 L755.1 102.7 L760.1 98.9 L765.1 97.1 L769.5 94.5 L771.4 88.9 L773.3 83.9 L776.5 82.6 L781.5 81.3 L785.2 78.8 L789.0 75.7 L792.8 74.0 L795.3 74.4 L797.8 77.6 L801.0 80.7 L804.1 82.6 L809.1 83.2 L814.2 83.9 L816.7 86.4 L819.2 90.1 L823.0 91.4 L828.0 91.6 L833.0 92.0 L836.8 93.3 L839.3 95.2 L843.1 93.9 L846.8 92.7 L851.9 93.3 L856.9 93.3 L859.4 94.5 L861.9 97.1 L864.4 99.6 L866.0 101.8" fill="none" stroke="#14c2ff" stroke-width="1.05" stroke-dasharray="0.9 1.25" stroke-opacity="0.9"/>
<path d="M638.0 304.9 L642.0 273.0 L643.3 261.6 L645.1 246.5 L647.0 233.9 L648.9 225.1 L651.4 218.8 L655.2 216.3 L656.5 211.3 L657.7 203.9 L660.2 194.0 L664.0 187.7 L665.9 180.2 L667.8 170.1 L670.3 160.1 L674.0 155.1 L679.1 150.0 L681.6 149.1 L684.1 146.9 L685.4 146.6 L689.1 145.5 L695.4 144.9 L701.7 144.1 L708.0 144.1 L714.3 143.4 L719.3 142.8 L723.1 140.3 L726.8 138.4 L729.4 135.3 L733.1 134.6 L738.2 135.3 L741.9 132.8 L744.4 129.0 L746.3 125.3 L748.0 124.0 L750.1 120.3 L753.8 117.8 L758.9 115.3 L763.9 113.4 L767.7 111.5 L771.4 107.1 L776.5 102.7 L782.7 100.8 L787.8 100.2 L791.5 97.1 L795.3 95.8 L800.3 95.2 L805.4 94.5 L810.4 93.9 L814.2 93.3 L817.9 95.2 L823.0 95.8 L828.0 95.8 L833.0 95.2 L836.8 95.2 L840.6 95.8 L844.3 94.5 L849.4 94.5 L854.4 94.5 L858.2 95.2 L860.7 97.1 L863.2 100.8 L865.9 104.2 L866.0 104.3" fill="none" stroke="#14c2ff" stroke-width="1.05" stroke-dasharray="0.9 1.25" stroke-opacity="0.9"/>
<path d="M866.0 101.8 L866.2 102.0 L869.8 103.9 L873.6 104.1 L877.4 105.7 L881.1 108.3 L886.2 110.8 L891.2 113.3 L896.2 115.2 L900.0 116.4 L903.8 119.6 L907.5 124.6 L911.3 130.9 L913.8 136.5 L915.7 142.8 L917.9 149.6 L918.8 153.0 L920.1 155.1 L922.6 160.1 L926.4 163.2 L930.2 165.7 L933.9 168.9 L936.4 172.7 L939.0 177.1 L940.8 182.7 L942.1 190.2 L943.4 197.8 L944.6 205.3 L946.1 211.5 L947.8 221.3 L949.6 231.4 L951.5 241.5 L952.8 249.0 L954.0 254.6 L956.6 256.5 L959.1 260.3 L961.0 264.1 L962.6 264.5 L964.1 266.0 L966.4 267.7 L967.9 268.5 L971.5 270.3 L973.4 274.4 L974.6 282.1 L975.8 289.7 L977.7 297.2 L979.6 306.0 L981.5 313.5 L983.4 319.8 L984.6 324.8 L986.2 326.3 L987.3 327.5" fill="none" stroke="#f7c414" stroke-width="1.05" stroke-dasharray="0.9 1.25" stroke-opacity="0.9"/>
<path d="M866.0 104.3 L868.6 105.7 L872.3 107.0 L874.9 110.1 L878.6 115.2 L882.4 118.3 L887.4 121.5 L892.5 125.2 L897.5 128.4 L901.2 131.5 L904.4 135.3 L906.3 140.3 L908.8 146.6 L911.3 149.6 L913.2 152.8 L915.1 158.8 L916.3 165.1 L918.2 172.7 L920.1 176.4 L922.6 178.9 L925.1 182.1 L928.9 183.3 L932.7 185.2 L935.2 189.0 L936.4 195.3 L937.7 201.6 L939.6 207.8 L941.2 212.8 L942.1 221.3 L944.0 232.7 L945.9 242.7 L947.1 251.5 L948.4 259.0 L949.6 266.6 L950.8 271.3 L951.9 278.3 L953.5 288.7 L957.6 292.8 L961.4 295.9 L965.1 301.0 L968.9 305.4 L970.8 312.3 L972.0 319.8 L973.3 326.2 L974.6 331.3 L976.4 341.4 L978.3 348.9 L980.2 355.2 L982.1 357.1 L984.6 358.3 L986.5 361.5" fill="none" stroke="#f7c414" stroke-width="1.05" stroke-dasharray="0.9 1.25" stroke-opacity="0.9"/>
</g>
<text transform="translate(119.5 212.8) scale(0.955 1)" font-size="14" fill="#ff1414" stroke="#ff1414" stroke-width="0.3" text-anchor="middle">VIDYAC</text>
<path d="M119.5 229.2L123.8 221.6L119.5 224.5L115.2 221.6Z" fill="#ff1414" fill-opacity="0.55" stroke="#ff1414" stroke-width="0.8" stroke-linejoin="miter"/>
<text transform="translate(292.4 349.6) scale(0.955 1)" font-size="14" fill="#08f508" stroke="#08f508" stroke-width="0.3" text-anchor="middle">VIDYAC</text>
<path d="M292.4 326L296.7 333.6L292.4 330.7L288.1 333.6Z" fill="#08f508" fill-opacity="0.55" stroke="#08f508" stroke-width="0.8" stroke-linejoin="miter"/>
<text transform="translate(475 247.6) scale(0.955 1)" font-size="14" fill="#ff1414" stroke="#ff1414" stroke-width="0.3" text-anchor="middle">VIDYAC</text>
<path d="M475 263.9L479.3 256.3L475 259.2L470.7 256.3Z" fill="#ff1414" fill-opacity="0.55" stroke="#ff1414" stroke-width="0.8" stroke-linejoin="miter"/>
<text transform="translate(638.7 190.2) scale(0.955 1)" font-size="14" fill="#08f508" stroke="#08f508" stroke-width="0.3" text-anchor="middle">VIDYAC</text>
<path d="M638.7 166.1L643 173.7L638.7 170.8L634.4 173.7Z" fill="#08f508" fill-opacity="0.55" stroke="#08f508" stroke-width="0.8" stroke-linejoin="miter"/>
<text transform="translate(867 92.7) scale(0.955 1)" font-size="14" fill="#ff1414" stroke="#ff1414" stroke-width="0.3" text-anchor="middle">VIDYAC</text>
<path d="M867 108.6L871.3 101L867 103.9L862.7 101Z" fill="#ff1414" fill-opacity="0.55" stroke="#ff1414" stroke-width="0.8" stroke-linejoin="miter"/>
<g stroke="#9a9a9a" stroke-width="1" fill="none">
<path d="M0 511.5H989.5V0"/>
<path d="M90 512V514.5"/>
<path d="M144.25 512V514.5"/>
<path d="M198.75 512V514.5"/>
<path d="M253.25 512V514.5"/>
<path d="M308.25 512V514.5"/>
<path d="M363 512V514.5"/>
<path d="M417.5 512V514.5"/>
<path d="M472.5 512V514.5"/>
<path d="M527.5 512V514.5"/>
<path d="M581.5 512V514.5"/>
<path d="M636.5 512V514.5"/>
<path d="M718.5 512V514.5"/>
<path d="M773.5 512V514.5"/>
<path d="M828.25 512V514.5"/>
<path d="M882.75 512V514.5"/>
<path d="M937.75 512V514.5"/>
<path d="M990 9.80H992.5"/>
<path d="M990 44.20H992.5"/>
<path d="M990 78.60H992.5"/>
<path d="M990 113.00H992.5"/>
<path d="M990 147.40H992.5"/>
<path d="M990 181.80H992.5"/>
<path d="M990 216.20H992.5"/>
<path d="M990 250.60H992.5"/>
<path d="M990 285.00H992.5"/>
<path d="M990 319.40H992.5"/>
<path d="M990 353.80H992.5"/>
<path d="M990 388.20H992.5"/>
<path d="M990 422.60H992.5"/>
<path d="M990 457.00H992.5"/>
<path d="M990 491.40H992.5"/>
</g>
<text transform="translate(90 525.3) scale(0.835 1)" font-size="8.5" fill="#e2e2e2" text-anchor="middle" stroke-width="0.06" stroke="#e2e2e2">Jul 31</text>
<text transform="translate(144.25 525.3) scale(0.835 1)" font-size="8.5" fill="#e2e2e2" text-anchor="middle" stroke-width="0.06" stroke="#e2e2e2">09:00</text>
<text transform="translate(198.75 525.3) scale(0.835 1)" font-size="8.5" fill="#e2e2e2" text-anchor="middle" stroke-width="0.06" stroke="#e2e2e2">11:00</text>
<text transform="translate(253.25 525.3) scale(0.835 1)" font-size="8.5" fill="#e2e2e2" text-anchor="middle" stroke-width="0.06" stroke="#e2e2e2">13:00</text>
<text transform="translate(308.25 525.3) scale(0.835 1)" font-size="8.5" fill="#e2e2e2" text-anchor="middle" stroke-width="0.06" stroke="#e2e2e2">15:00</text>
<text transform="translate(363 525.3) scale(0.835 1)" font-size="8.5" fill="#e2e2e2" text-anchor="middle" stroke-width="0.06" stroke="#e2e2e2">17:00</text>
<text transform="translate(417.5 525.3) scale(0.835 1)" font-size="8.5" fill="#e2e2e2" text-anchor="middle" stroke-width="0.06" stroke="#e2e2e2">19:00</text>
<text transform="translate(472.5 525.3) scale(0.835 1)" font-size="8.5" fill="#e2e2e2" text-anchor="middle" stroke-width="0.06" stroke="#e2e2e2">21:00</text>
<text transform="translate(527.5 525.3) scale(0.835 1)" font-size="8.5" fill="#e2e2e2" text-anchor="middle" stroke-width="0.06" stroke="#e2e2e2">23:00</text>
<text transform="translate(581.5 525.3) scale(0.835 1)" font-size="8.5" fill="#e2e2e2" text-anchor="middle" stroke-width="0.06" stroke="#e2e2e2">Aug 1</text>
<text transform="translate(636.5 525.3) scale(0.835 1)" font-size="8.5" fill="#e2e2e2" text-anchor="middle" stroke-width="0.06" stroke="#e2e2e2">03:00</text>
<text transform="translate(718.5 525.3) scale(0.835 1)" font-size="8.5" fill="#e2e2e2" text-anchor="middle" stroke-width="0.06" stroke="#e2e2e2">07:00</text>
<text transform="translate(773.5 525.3) scale(0.835 1)" font-size="8.5" fill="#e2e2e2" text-anchor="middle" stroke-width="0.06" stroke="#e2e2e2">09:00</text>
<text transform="translate(828.25 525.3) scale(0.835 1)" font-size="8.5" fill="#e2e2e2" text-anchor="middle" stroke-width="0.06" stroke="#e2e2e2">11:00</text>
<text transform="translate(882.75 525.3) scale(0.835 1)" font-size="8.5" fill="#e2e2e2" text-anchor="middle" stroke-width="0.06" stroke="#e2e2e2">13:00</text>
<text transform="translate(937.75 525.3) scale(0.835 1)" font-size="8.5" fill="#e2e2e2" text-anchor="middle" stroke-width="0.06" stroke="#e2e2e2">15:00</text>
<text transform="translate(994 12.9) scale(0.835 1)" font-size="8.5" fill="#e2e2e2" text-anchor="start" stroke-width="0.06" stroke="#e2e2e2">4672.00</text>
<text transform="translate(994 47.3143) scale(0.835 1)" font-size="8.5" fill="#e2e2e2" text-anchor="start" stroke-width="0.06" stroke="#e2e2e2">4670.00</text>
<text transform="translate(994 81.7286) scale(0.835 1)" font-size="8.5" fill="#e2e2e2" text-anchor="start" stroke-width="0.06" stroke="#e2e2e2">4668.00</text>
<text transform="translate(994 116.143) scale(0.835 1)" font-size="8.5" fill="#e2e2e2" text-anchor="start" stroke-width="0.06" stroke="#e2e2e2">4666.00</text>
<text transform="translate(994 150.557) scale(0.835 1)" font-size="8.5" fill="#e2e2e2" text-anchor="start" stroke-width="0.06" stroke="#e2e2e2">4664.00</text>
<text transform="translate(994 184.971) scale(0.835 1)" font-size="8.5" fill="#e2e2e2" text-anchor="start" stroke-width="0.06" stroke="#e2e2e2">4662.00</text>
<text transform="translate(994 219.386) scale(0.835 1)" font-size="8.5" fill="#e2e2e2" text-anchor="start" stroke-width="0.06" stroke="#e2e2e2">4660.00</text>
<text transform="translate(994 253.8) scale(0.835 1)" font-size="8.5" fill="#e2e2e2" text-anchor="start" stroke-width="0.06" stroke="#e2e2e2">4658.00</text>
<text transform="translate(994 288.214) scale(0.835 1)" font-size="8.5" fill="#e2e2e2" text-anchor="start" stroke-width="0.06" stroke="#e2e2e2">4656.00</text>
<text transform="translate(994 391.457) scale(0.835 1)" font-size="8.5" fill="#e2e2e2" text-anchor="start" stroke-width="0.06" stroke="#e2e2e2">4650.00</text>
<text transform="translate(994 425.871) scale(0.835 1)" font-size="8.5" fill="#e2e2e2" text-anchor="start" stroke-width="0.06" stroke="#e2e2e2">4648.00</text>
<text transform="translate(994 460.286) scale(0.835 1)" font-size="8.5" fill="#e2e2e2" text-anchor="start" stroke-width="0.06" stroke="#e2e2e2">4646.00</text>
<text transform="translate(994 494.7) scale(0.835 1)" font-size="8.5" fill="#e2e2e2" text-anchor="start" stroke-width="0.06" stroke="#e2e2e2">4644.00</text>
<text transform="translate(3 9.6) scale(0.835 1)" font-size="8.5" fill="#e0e0e0" text-anchor="start" stroke-width="0.06" stroke="#e0e0e0">VIDYA Crossover by ninZa.co (ES 12-23 (5 Minute))</text>
<text transform="translate(2.5 507) scale(0.835 1)" font-size="8.5" fill="#d8d8d8" text-anchor="start" stroke-width="0.06" stroke="#d8d8d8">© 2023 NinjaTrader, LLC</text>
<text transform="translate(3 536.4) scale(0.76 1)" font-size="7.4" fill="#d8d8d8" text-anchor="start" stroke-width="0.06" stroke="#d8d8d8">ES 12-23</text>
<g stroke="#e2dcdc" stroke-width="1.3" fill="none" stroke-linecap="butt" stroke-linejoin="miter"><path d="M967.2 14H978.6M973.8 9.4L978.6 14L973.8 18.6"/></g>
<path d="M985.3 319.60L989.5 314.40H1022Q1023 314.40 1023 315.40V323.80Q1023 324.80 1022 324.80H989.5Z" fill="#3a3a40" stroke="#9a9a9a" stroke-width="1"/>
<text transform="translate(994 322.7) scale(0.835 1)" font-size="8.5" fill="#f0f0f0" text-anchor="start" stroke-width="0.06" stroke="#f0f0f0">4654.00</text>
<path d="M985.3 356.50L989.5 351.30H1022Q1023 351.30 1023 352.30V360.70Q1023 361.70 1022 361.70H989.5Z" fill="#3a3a40" stroke="#9a9a9a" stroke-width="1"/>
<text transform="translate(994 359.6) scale(0.835 1)" font-size="8.5" fill="#f0f0f0" text-anchor="start" stroke-width="0.06" stroke="#f0f0f0">4651.75</text>
<path d="M985.3 405.60L989.5 400.40H1022Q1023 400.40 1023 401.40V409.80Q1023 410.80 1022 410.80H989.5Z" fill="#3a3a40" stroke="#9a9a9a" stroke-width="1"/>
<text transform="translate(994 408.7) scale(0.835 1)" font-size="8.5" fill="#f0f0f0" text-anchor="start" stroke-width="0.06" stroke="#f0f0f0">4649.00</text>
<g>
<path d="M915.6 530.4C911.2 530.3 909.2 532.6 909.3 535.2C909.4 537.8 911.6 539.9 915 540" fill="none" stroke="#a8958a" stroke-width="1.5" stroke-linecap="round"/>
<path d="M915.4 532.6C913.3 533.1 912.3 534.4 912.6 535.8C912.9 537 914 537.9 915.6 538.2" fill="none" stroke="#9c8c84" stroke-width="1" stroke-linecap="round"/>
<path d="M915.1 530.3L917.5 530.6L918.9 535.4L920.6 530.4L922.2 531.5Q924.3 534.6 921.6 537.6Q920.2 539.3 918.2 540Z" fill="#d21f28"/>
<text x="926.3" y="538.2" font-size="8.6" fill="#8e837c" textLength="37.2" lengthAdjust="spacingAndGlyphs">NINJA</text>
<text x="964.3" y="538.2" font-size="8.6" font-weight="bold" fill="#b8232a" textLength="54.6" lengthAdjust="spacingAndGlyphs">TRADER</text>
<text x="1019.6" y="533.6" font-size="3.4" fill="#b8232a">®</text>
</g>
</svg>
</body></html>
